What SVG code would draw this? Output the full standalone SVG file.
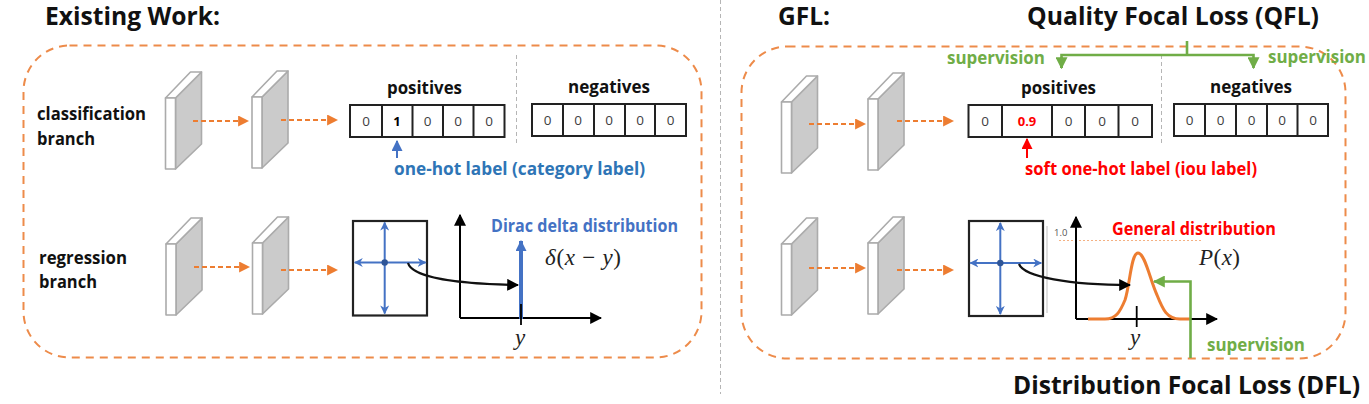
<svg xmlns="http://www.w3.org/2000/svg" width="1369" height="404" viewBox="0 0 1369 404">
<style>
text{font-family:"Open Sans","Noto Sans","Liberation Sans",sans-serif}
.t{font-weight:700;fill:#111}
.h{font-size:25px}
.m{font-size:17px}
.c{font-size:13.500px;fill:#404040;text-anchor:middle}
.bc{font-size:13px;font-weight:700;text-anchor:middle}
.blue{font-size:17px;font-weight:700;fill:#4472c4}
.cb{font-size:17px;font-weight:700;fill:#2e75b6}
.red{font-size:17px;font-weight:700;fill:#ff0000}
.grn{font-size:17px;font-weight:700;fill:#70ad47}
.math{font-family:"Liberation Serif","DejaVu Serif",serif;font-size:23px;fill:#222}
.i{font-style:italic}
.frame{fill:none;stroke:#ed8b4a;stroke-width:2;stroke-dasharray:8 6}
.sep{stroke:#b5b5b5;stroke-width:1;stroke-dasharray:4 3;fill:none}
.cell{fill:#fff;stroke:#222;stroke-width:2}
.div{stroke:#222;stroke-width:2;fill:none}
.box{fill:#fff;stroke:#222;stroke-width:2.200}
.oa{stroke:#ed7d31;stroke-width:2.200;stroke-dasharray:5 3;fill:none;marker-end:url(#orange)}
.xa{stroke:#4472c4;stroke-width:2;fill:none;marker-start:url(#bluesmall);marker-end:url(#bluesmall)}
.ax{stroke:#000;stroke-width:2;fill:none;marker-end:url(#black)}
.cv{stroke:#111;stroke-width:2.200;fill:none;marker-end:url(#black)}
.g{stroke:#70ad47;stroke-width:2.600;fill:none}
</style>
<defs>
<marker id="orange" viewBox="0 0 10 10" refX="9" refY="5" markerUnits="userSpaceOnUse" markerWidth="11" markerHeight="11" orient="auto"><path d="M0 0L10 5L0 10Z" fill="#ed7d31"/></marker>
<marker id="bluesmall" viewBox="0 0 10 10" refX="9" refY="5" markerUnits="userSpaceOnUse" markerWidth="9" markerHeight="9" orient="auto-start-reverse"><path d="M0 0L10 5L0 10L3 5Z" fill="#4472c4"/></marker>
<marker id="black" viewBox="0 0 10 10" refX="9" refY="5" markerUnits="userSpaceOnUse" markerWidth="12" markerHeight="12" orient="auto"><path d="M0 0L10 5L0 10Z" fill="#000"/></marker>
<marker id="blue" viewBox="0 0 10 10" refX="9" refY="5" markerUnits="userSpaceOnUse" markerWidth="11" markerHeight="11" orient="auto"><path d="M0 0L10 5L0 10Z" fill="#4472c4"/></marker>
<marker id="red" viewBox="0 0 10 10" refX="9" refY="5" markerUnits="userSpaceOnUse" markerWidth="11" markerHeight="11" orient="auto"><path d="M0 0L10 5L0 10Z" fill="#ff0000"/></marker>
<marker id="green" viewBox="0 0 10 10" refX="9" refY="5" markerUnits="userSpaceOnUse" markerWidth="12" markerHeight="12" orient="auto"><path d="M0 0L10 5L0 10Z" fill="#70ad47"/></marker>
<g id="block" stroke="#ababab" stroke-width="1.600" stroke-linejoin="round">
<path d="M10 0L36 -26V46L10 71Z" fill="#cbcbcb"/>
<path d="M0 0L25 -26H36L10 0Z" fill="#fff"/>
<rect x="0" y="0" width="10" height="71" fill="#fff"/>
</g>
<g id="cross">
<path class="xa" d="M0 -40V51"/>
<path class="xa" d="M-30 0H41"/>
<circle r="3.200" cx="0" cy="0" fill="#2f5597"/>
</g>
</defs>

<path class="sep" d="M720.500 0V394"/>

<g id="existing-work">
<text class="t h" x="45" y="25" textLength="175" lengthAdjust="spacingAndGlyphs">Existing Work:</text>
<rect class="frame" x="23.500" y="45.500" width="678" height="312" rx="46"/>
<text class="t m" x="37" y="120" textLength="109" lengthAdjust="spacingAndGlyphs">classification</text>
<text class="t m" x="37" y="145" textLength="58" lengthAdjust="spacingAndGlyphs">branch</text>
<text class="t m" x="39" y="264" textLength="88" lengthAdjust="spacingAndGlyphs">regression</text>
<text class="t m" x="39" y="288" textLength="58" lengthAdjust="spacingAndGlyphs">branch</text>
</g>

<g id="left-blocks">
<use href="#block" x="165.500" y="98"/>
<use href="#block" x="252" y="97"/>
<use href="#block" x="166" y="244"/>
<use href="#block" x="252.500" y="243"/>
</g>

<g id="left-labels">
<path class="sep" d="M516.500 55V143"/>
<text class="t m" x="387" y="94" textLength="75" lengthAdjust="spacingAndGlyphs">positives</text>
<text class="t m" x="568" y="93" textLength="82" lengthAdjust="spacingAndGlyphs">negatives</text>
</g>
<g id="left-positives">
<rect class="cell" x="350" y="105" width="154.500" height="32"/>
<path class="div" d="M382 105V137M412.500 105V137M443 105V137M473.500 105V137"/>
<text class="c" x="366" y="126">0</text><text class="bc" x="397" y="126">1</text><text class="c" x="427.500" y="126">0</text><text class="c" x="458" y="126">0</text><text class="c" x="489" y="126">0</text>
</g>
<g id="left-negatives">
<rect class="cell" x="532" y="104" width="154" height="32"/>
<path class="div" d="M563 104V136M594 104V136M625 104V136M655 104V136"/>
<text class="c" x="547.500" y="125">0</text><text class="c" x="578" y="125">0</text><text class="c" x="609" y="125">0</text><text class="c" x="640" y="125">0</text><text class="c" x="670.500" y="125">0</text>
</g>
<text class="cb" x="394" y="175" textLength="251" lengthAdjust="spacingAndGlyphs">one-hot label (category label)</text>

<g id="left-regression">
<rect class="box" x="353" y="221" width="74" height="94.500"/>
<use href="#cross" x="384.700" y="262.500"/>
<text class="blue" x="491" y="232" textLength="187" lengthAdjust="spacingAndGlyphs">Dirac delta distribution</text>
<text class="math" x="545" y="265" textLength="76"><tspan class="i">δ</tspan>(<tspan class="i">x</tspan> − <tspan class="i">y</tspan>)</text>
<text class="math i" x="515" y="345">y</text>
</g>

<g id="gfl">
<text class="t h" x="778" y="25" textLength="52" lengthAdjust="spacingAndGlyphs">GFL:</text>
<text class="t h" x="1027" y="25" textLength="292" lengthAdjust="spacingAndGlyphs">Quality Focal Loss (QFL)</text>
<text class="t h" x="1013" y="394" textLength="347" lengthAdjust="spacingAndGlyphs">Distribution Focal Loss (DFL)</text>
<rect class="frame" x="741.500" y="46.500" width="604" height="312" rx="46"/>
</g>

<g id="right-blocks">
<use href="#block" x="781.500" y="102"/>
<use href="#block" x="868" y="99"/>
<use href="#block" x="781.500" y="244"/>
<use href="#block" x="868" y="243"/>
</g>

<g id="right-labels">
<path class="sep" d="M1161.500 55V143"/>
<text class="t m" x="1021" y="94" textLength="75" lengthAdjust="spacingAndGlyphs">positives</text>
<text class="t m" x="1210" y="93" textLength="82" lengthAdjust="spacingAndGlyphs">negatives</text>
<text class="grn" x="947" y="64" textLength="98" lengthAdjust="spacingAndGlyphs">supervision</text>
<text class="grn" x="1268" y="63" textLength="98" lengthAdjust="spacingAndGlyphs">supervision</text>
</g>
<g id="right-positives">
<rect class="cell" x="968.500" y="105" width="183.500" height="32"/>
<path class="div" d="M1002 105V137M1052 105V137M1085 105V137M1118.500 105V137"/>
<text class="c" x="985" y="126">0</text><text class="bc" x="1027" y="126" fill="#ff0000">0.9</text><text class="c" x="1068.500" y="126">0</text><text class="c" x="1102" y="126">0</text><text class="c" x="1135" y="126">0</text>
</g>
<g id="right-negatives">
<rect class="cell" x="1174" y="104" width="154" height="32"/>
<path class="div" d="M1205 104V136M1236 104V136M1267 104V136M1297.500 104V136"/>
<text class="c" x="1189.500" y="125">0</text><text class="c" x="1220.500" y="125">0</text><text class="c" x="1251.500" y="125">0</text><text class="c" x="1282" y="125">0</text><text class="c" x="1313" y="125">0</text>
</g>
<text class="red" x="1025" y="175" textLength="232" lengthAdjust="spacingAndGlyphs">soft one-hot label (iou label)</text>

<g id="right-regression">
<path d="M1037.500 226V313M1040 226V313M1047 226V313" stroke="#d5d5d5" stroke-width="1.500" fill="none"/>
<rect class="box" x="969" y="221" width="74" height="95"/>
<use href="#cross" x="1000.300" y="263"/>
<text x="1054" y="236" font-size="9.500" fill="#555">1.0</text>
<path d="M1059 240.500H1203" stroke="#f4b183" stroke-width="1" stroke-dasharray="2 2" fill="none"/>
<text class="red" x="1112" y="235" textLength="164" lengthAdjust="spacingAndGlyphs">General distribution</text>
<text class="math" x="1199" y="265" textLength="41"><tspan class="i">P</tspan>(<tspan class="i">x</tspan>)</text>
<text class="math i" x="1130" y="345">y</text>
<text class="grn" x="1207" y="351" textLength="98" lengthAdjust="spacingAndGlyphs">supervision</text>
</g>

<g id="connectors">
<path class="oa" d="M193 121H248"/>
<path class="oa" d="M281 120H337"/>
<path class="oa" d="M194 267H249"/>
<path class="oa" d="M281 270H337"/>
<path class="oa" d="M809 124H865"/>
<path class="oa" d="M897 121H953"/>
<path class="oa" d="M809 268H865"/>
<path class="oa" d="M897 270H953"/>
<path d="M397 158V141" stroke="#4472c4" stroke-width="2" fill="none" marker-end="url(#blue)"/>
<path d="M1027 158V139" stroke="#ff0000" stroke-width="2" fill="none" marker-end="url(#red)"/>
<path class="ax" d="M460 318V215"/>
<path class="ax" d="M460 318H601"/>
<path class="cv" d="M408 263C412 277 455 284 518 285"/>
<path d="M521 319V241" stroke="#4472c4" stroke-width="4" fill="none" marker-end="url(#blue)"/>
<path d="M521 304V325" stroke="#000" stroke-width="1.800" fill="none"/>
<path class="ax" d="M1076 319V217"/>
<path class="ax" d="M1076 319H1217"/>
<path d="M1136.700 306V327" stroke="#000" stroke-width="1.800" fill="none"/>
<path d="M1088 319H1105C1116 319 1120 312 1125 300C1130 285 1131 253 1138 253C1145 253 1150 280 1157 295C1163 310 1167 319 1180 319H1190" stroke="#ed7d31" stroke-width="3" fill="none"/>
<path class="cv" d="M1019 264C1024 277 1070 285 1130 285"/>
<path class="g" d="M1187 41V55"/>
<path class="g" d="M1061.500 68V55H1253.500V68" marker-end="url(#green)"/>
<path class="g" d="M1061.500 57V68" marker-end="url(#green)"/>
<path class="g" d="M1190.500 358V281.500H1154" marker-end="url(#green)"/>
</g>
</svg>
